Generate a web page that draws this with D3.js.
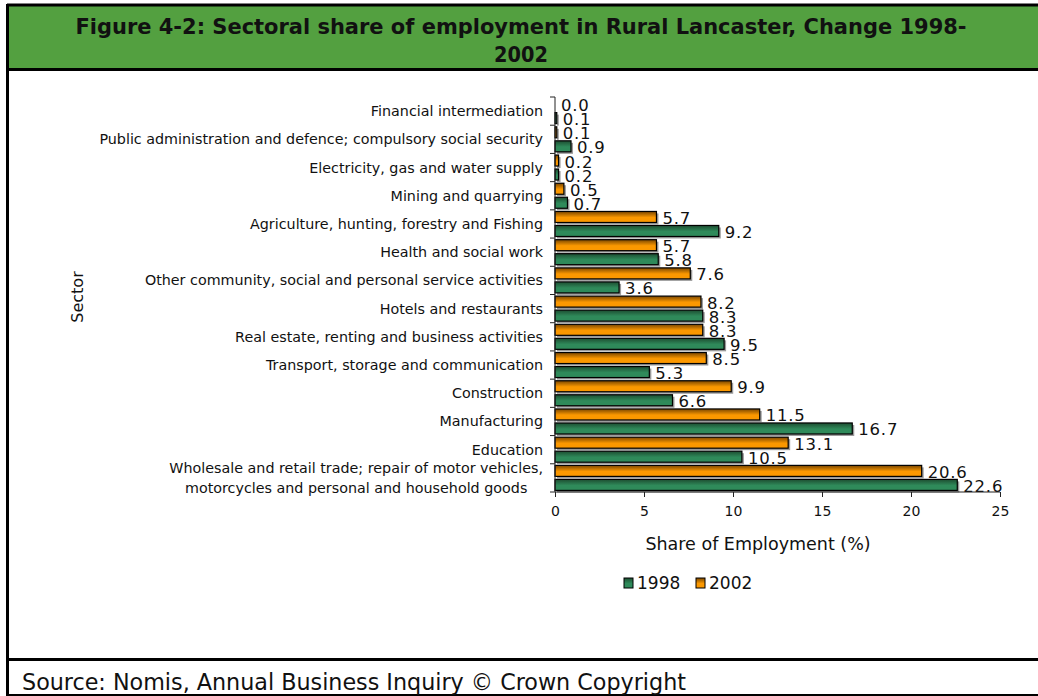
<!DOCTYPE html>
<html>
<head>
<meta charset="utf-8">
<script src="https://cdn.jsdelivr.net/npm/d3@7"></script>
<style>
  html, body { margin: 0; padding: 0; background: #fff; }
  svg { display: block; }
</style>
</head>
<body>
<script>
// Sectors, listed top to bottom as they appear on the vertical axis
const sectors = [
  "Financial intermediation",
  "Public administration and defence; compulsory social security",
  "Electricity, gas and water supply",
  "Mining and quarrying",
  "Agriculture, hunting, forestry and Fishing",
  "Health and social work",
  "Other community, social and personal service activities",
  "Hotels and restaurants",
  "Real estate, renting and business activities",
  "Transport, storage and communication",
  "Construction",
  "Manufacturing",
  "Education",
  "Wholesale and retail trade; repair of motor vehicles,\nmotorcycles and personal and household goods"
];
// Share of employment (%) per sector
const share2002 = [0.0, 0.1, 0.2, 0.5, 5.7, 5.7, 7.6, 8.2, 8.3, 8.5, 9.9, 11.5, 13.1, 20.6];
const share1998 = [0.1, 0.9, 0.2, 0.7, 9.2, 5.8, 3.6, 8.3, 9.5, 5.3, 6.6, 16.7, 10.5, 22.6];
const seriesNames = ["2002", "1998"];          // order within each sector band
const legendNames = ["1998", "2002"];
const xTicks = [0, 5, 10, 15, 20, 25];

const W = 1038, H = 696;
const svg = d3.select("body").append("svg").attr("width", W).attr("height", H);

// Gradients for bar fills
const defs = svg.append("defs");
function grad(id, dark, light) {
  const g = defs.append("linearGradient").attr("id", id)
    .attr("x1", 0).attr("y1", 0).attr("x2", 0).attr("y2", 1);
  g.append("stop").attr("offset", "0%").attr("stop-color", dark);
  g.append("stop").attr("offset", "55%").attr("stop-color", light);
  g.append("stop").attr("offset", "100%").attr("stop-color", light);
}
grad("g1998", "#1d4d31", "#2f8a5a");
grad("g2002", "#7a4600", "#fb9800");
const fillFor = { "1998": "url(#g1998)", "2002": "url(#g2002)" };

// Frame: title band, chart area, source row
svg.append("rect").attr("x", 7).attr("y", 5).attr("width", W - 7).attr("height", 64).attr("fill", "#53a040");
svg.append("line").attr("x1", 7).attr("x2", W).attr("y1", 5).attr("y2", 5).attr("stroke", "#000").attr("stroke-width", 3);
svg.append("line").attr("x1", 7).attr("x2", W).attr("y1", 69.5).attr("y2", 69.5).attr("stroke", "#000").attr("stroke-width", 3);
svg.append("line").attr("x1", 7).attr("x2", W).attr("y1", 659.5).attr("y2", 659.5).attr("stroke", "#000").attr("stroke-width", 3);
svg.append("line").attr("x1", 7).attr("x2", W).attr("y1", 695).attr("y2", 695).attr("stroke", "#000").attr("stroke-width", 2);
svg.append("line").attr("x1", 7.5).attr("x2", 7.5).attr("y1", 4).attr("y2", H).attr("stroke", "#000").attr("stroke-width", 3);

// Title
const title = svg.append("text").attr("text-anchor", "middle")
  .attr("font-family", "'DejaVu Sans Condensed', 'DejaVu Sans', sans-serif")
  .attr("font-weight", "bold").attr("font-size", 21.5).attr("fill", "#111");
title.append("tspan").attr("x", 521).attr("y", 34)
  .attr("textLength", 891).attr("lengthAdjust", "spacingAndGlyphs")
  .text("Figure 4-2: Sectoral share of employment in Rural Lancaster, Change 1998-");
title.append("tspan").attr("x", 521).attr("y", 62).text("2002");

// Source line
svg.append("text").attr("x", 22).attr("y", 690)
  .attr("font-family", "'DejaVu Sans Condensed', 'DejaVu Sans', sans-serif")
  .attr("font-size", 23).attr("fill", "#111")
  .attr("textLength", 664).attr("lengthAdjust", "spacingAndGlyphs")
  .text("Source: Nomis, Annual Business Inquiry \u00A9 Crown Copyright");

// Plot area
const plotL = 555, plotR = 1000, plotT = 97, plotB = 492;
const x = d3.scaleLinear().domain([0, 25]).range([plotL, plotR]);
const y = d3.scaleBand().domain(sectors).range([plotT, plotB]).padding(0);
const inner = d3.scaleBand().domain(seriesNames).range([0, y.bandwidth()])
  .paddingInner(0.214).paddingOuter(0.114);

const font = "'DejaVu Sans', Verdana, sans-serif";

const rows = sectors.map((s, i) => ({ sector: s, values: [
  { series: "2002", v: share2002[i] },
  { series: "1998", v: share1998[i] }
]}));

const g = svg.append("g");
const rowG = g.selectAll("g.row").data(rows).join("g")
  .attr("class", "row").attr("transform", d => `translate(0,${y(d.sector)})`);

const bars = rowG.selectAll("g.bar").data(d => d.values).join("g").attr("class", "bar");
// drop shadow
bars.filter(d => d.v > 0).append("rect")
  .attr("x", x(0) + 2).attr("y", d => inner(d.series) + 2)
  .attr("width", d => x(d.v) - x(0)).attr("height", inner.bandwidth())
  .attr("fill", "#9a9a9a");
bars.filter(d => d.v > 0).append("rect")
  .attr("x", x(0)).attr("y", d => inner(d.series))
  .attr("width", d => x(d.v) - x(0)).attr("height", inner.bandwidth())
  .attr("fill", d => fillFor[d.series]).attr("stroke", "#000").attr("stroke-width", 1.2);
// value labels
bars.append("text")
  .attr("x", d => x(d.v) + 6)
  .attr("y", d => inner(d.series) + inner.bandwidth() + 1.5)
  .attr("font-family", font).attr("font-size", 16.5).attr("fill", "#111")
  .attr("letter-spacing", 0.8)
  .text(d => d.v.toFixed(1));

// Y axis
const yAxis = d3.axisLeft(y).tickSize(0).tickFormat("");
const yg = svg.append("g").attr("transform", `translate(${plotL},0)`).call(yAxis);
yg.select(".domain").attr("stroke", "#222").attr("d", `M0,${plotT}V${plotB}`);
// tick marks at band boundaries
svg.append("g").selectAll("line").data(d3.range(sectors.length + 1)).join("line")
  .attr("x1", plotL - 5).attr("x2", plotL)
  .attr("y1", i => plotT + i * y.step()).attr("y2", i => plotT + i * y.step())
  .attr("stroke", "#222");

// Category labels
const catG = svg.append("g").attr("font-family", font).attr("font-size", 14.3).attr("fill", "#111");
sectors.forEach(s => {
  const lines = s.split("\n");
  const cy = y(s) + y.bandwidth() / 2;
  if (lines.length === 1) {
    catG.append("text").attr("x", plotL - 12).attr("y", cy).attr("dy", "0.35em")
      .attr("text-anchor", "end").text(s);
  } else {
    const t = catG.append("text").attr("text-anchor", "middle");
    const tmp = catG.append("text").text(lines[0]);
    const w0 = tmp.node().getComputedTextLength();
    tmp.remove();
    const cx = plotL - 12 - w0 / 2;
    lines.forEach((ln, k) => {
      t.append("tspan").attr("x", cx).attr("y", cy + (k - (lines.length - 1) / 2) * 20)
        .attr("dy", "0.35em").text(ln);
    });
  }
});

// X axis
const xAxis = d3.axisBottom(x).tickValues(xTicks).tickSize(5).tickPadding(9).tickFormat(d3.format("d"));
const xg = svg.append("g").attr("transform", `translate(0,${plotB})`).call(xAxis);
xg.select(".domain").attr("stroke", "#222").attr("d", `M${plotL},0H${plotR}`);
xg.selectAll(".tick line").attr("stroke", "#222");
xg.selectAll(".tick text").attr("font-family", font).attr("font-size", 14).attr("fill", "#111");

// Axis titles
svg.append("text").attr("x", 758).attr("y", 550).attr("text-anchor", "middle")
  .attr("font-family", font).attr("font-size", 17.5).attr("fill", "#111")
  .text("Share of Employment (%)");
svg.append("text").attr("transform", "translate(83,297) rotate(-90)").attr("text-anchor", "middle")
  .attr("font-family", font).attr("font-size", 16).attr("fill", "#111")
  .text("Sector");

// Legend
const lg = svg.append("g").attr("transform", "translate(624,583)");
const item = lg.selectAll("g").data(legendNames).join("g")
  .attr("transform", (d, i) => `translate(${i * 72},0)`);
item.append("rect").attr("x", 0).attr("y", -5).attr("width", 9).attr("height", 10)
  .attr("fill", d => fillFor[d]).attr("stroke", "#000");
item.append("text").attr("x", 13).attr("y", 0).attr("dy", "0.36em")
  .attr("font-family", font).attr("font-size", 17).attr("fill", "#111")
  .text(d => d);
</script>
</body>
</html>
